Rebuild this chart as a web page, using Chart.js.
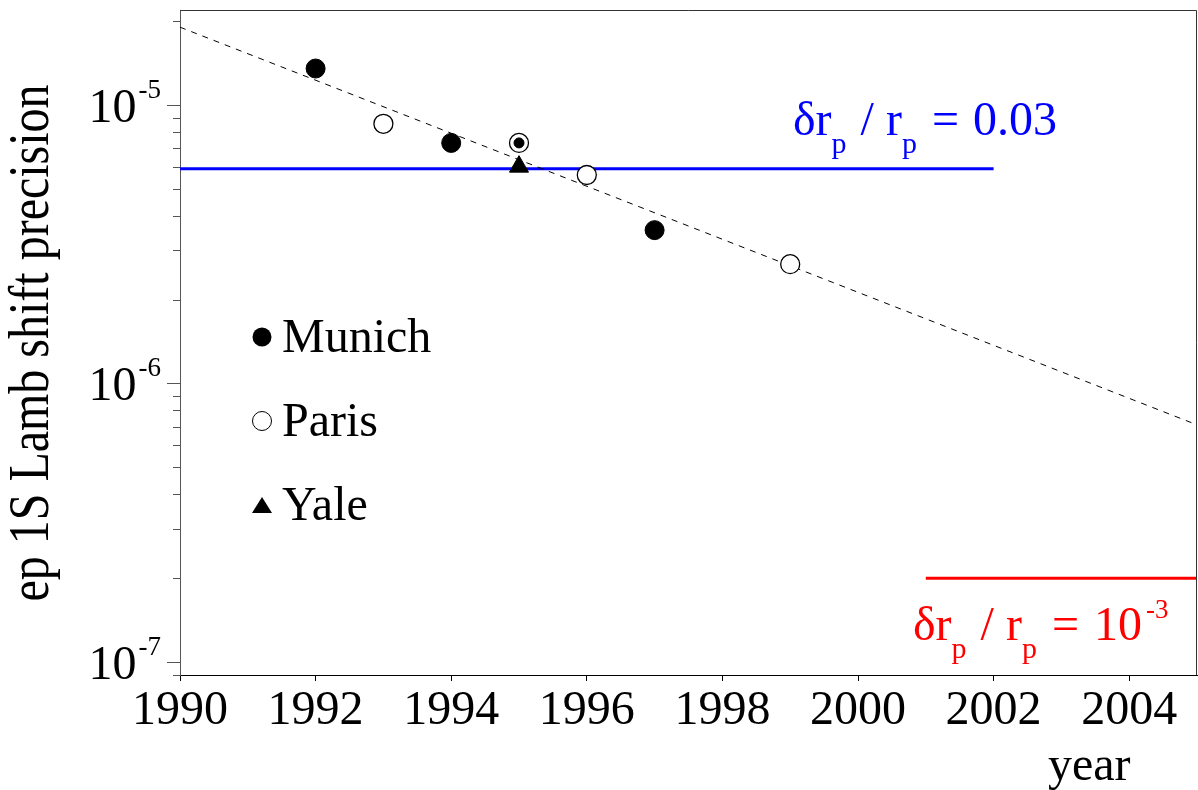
<!DOCTYPE html>
<html>
<head>
<meta charset="utf-8">
<script src="https://cdn.jsdelivr.net/npm/chart.js@4"></script>
<style>
  html, body { margin: 0; padding: 0; background: #fff; }
  #myChart { display: block; }
</style>
</head>
<body>
<canvas id="myChart" width="1198" height="790"></canvas>
<script>
const munichYears = [1992, 1994, 1995, 1997];
const munichPrec = [1.35e-5, 7.3e-6, 7.3e-6, 3.55e-6];
const munichRadius = [9.5, 9.5, 5, 9.5];

const parisYears = [1993, 1995, 1996, 1999];
const parisPrec = [8.55e-6, 7.3e-6, 5.6e-6, 2.68e-6];

const yaleYears = [1995];
const yalePrec = [6.0e-6];

// dashed trend line (end points)
const fitYears = [1990, 2005];
const fitPrec = [1.9e-5, 7.1e-7];

// target lines
const blueYears = [1990, 2002];
const blueLevel = 5.9e-6;
const redYears = [2001, 2005];
const redLevel = 2.0e-7;

const decadeTicks = [1e-7, 1e-6, 1e-5];
const legendNames = ["Munich", "Paris", "Yale"];

const serif = "'Liberation Serif', 'DejaVu Serif', serif";

const pts = (xs, ys) => xs.map((x, i) => ({ x: x, y: Array.isArray(ys) ? ys[i] : ys }));

function font(size) {
  return size + "px " + serif;
}

// text pieces: [text, size, dy, gapAfter]
function drawPieces(ctx, pieces, x, y, color) {
  ctx.fillStyle = color;
  ctx.textAlign = "left";
  ctx.textBaseline = "alphabetic";
  pieces.forEach((p) => {
    ctx.font = font(p[1]);
    ctx.fillText(p[0], x, y + p[2]);
    x += ctx.measureText(p[0]).width + (p[3] || 0);
  });
}

const extras = {
  id: "extras",
  afterDraw(chart) {
    const ctx = chart.ctx;
    const area = chart.chartArea;
    const ys = chart.scales.y;
    ctx.save();

    // frame top/right
    ctx.strokeStyle = "#333";
    ctx.lineWidth = 1;
    ctx.beginPath();
    ctx.moveTo(area.left, area.top + 0.5);
    ctx.lineTo(area.right - 0.5, area.top + 0.5);
    ctx.lineTo(area.right - 0.5, area.bottom);
    ctx.stroke();

    // log ticks on y axis
    ctx.strokeStyle = "#555";
    for (let e = -8; e <= -4; e++) {
      for (let m = 1; m <= 9; m++) {
        const v = m * Math.pow(10, e);
        if (v < ys.min || v > ys.max) continue;
        const py = Math.round(ys.getPixelForValue(v)) + 0.5;
        const len = m == 1 ? 13 : 7;
        ctx.beginPath();
        ctx.moveTo(area.left - len, py);
        ctx.lineTo(area.left, py);
        ctx.stroke();
      }
    }

    // decade labels 10^n
    decadeTicks.forEach((v) => {
      const py = ys.getPixelForValue(v);
      const exp = String(Math.round(Math.log10(v)));
      ctx.font = font(27);
      const we = ctx.measureText(exp).width;
      ctx.font = font(48);
      const wb = ctx.measureText("10").width;
      const right = area.left - 19;
      drawPieces(ctx, [["10", 48, 0]], right - we - wb - 2, py + 17, "#000");
      drawPieces(ctx, [[exp, 27, 0]], right - we, py - 7, "#000");
    });

    // axis titles
    ctx.fillStyle = "#000";
    ctx.font = font(48);
    ctx.textAlign = "left";
    ctx.textBaseline = "alphabetic";
    ctx.fillText("year", 1048, 780);

    ctx.save();
    ctx.translate(48, 343);
    ctx.rotate(-Math.PI / 2);
    ctx.scale(1, 1.18);
    ctx.textAlign = "center";
    ctx.fillText("ep 1S Lamb shift precision", 0, 0);
    ctx.restore();

    // legend
    const lx = 262;
    const rows = [337, 421, 505];
    ctx.fillStyle = "#000";
    ctx.strokeStyle = "#000";
    ctx.lineWidth = 1;
    ctx.beginPath();
    ctx.arc(lx, rows[0], 9.5, 0, Math.PI * 2);
    ctx.fill();
    ctx.beginPath();
    ctx.arc(lx, rows[1], 9.5, 0, Math.PI * 2);
    ctx.stroke();
    ctx.beginPath();
    ctx.moveTo(lx - 10, rows[2] + 8);
    ctx.lineTo(lx + 10, rows[2] + 8);
    ctx.lineTo(lx, rows[2] - 8);
    ctx.closePath();
    ctx.fill();
    legendNames.forEach((name, i) => {
      drawPieces(ctx, [[name, 48, 0]], 282, rows[i] + 15, "#000");
    });

    // target labels
    drawPieces(ctx, [["\u03B4r", 48, 0], ["p", 30, 18, 2], [" / r", 48, 0], ["p", 30, 18, 3], [" = ", 48, 0, 2], ["0.03", 48, 0]], 793, 135, "#0000ff");
    drawPieces(ctx, [["\u03B4r", 48, 0], ["p", 30, 18, 2], [" / r", 48, 0], ["p", 30, 18, 3], [" = ", 48, 0, 3], ["10", 48, 0, 4], ["-3", 27, -22]], 913, 640, "#ff0000");

    ctx.restore();
  },
};

const data = {
  datasets: [
    {
      label: "Munich",
      data: pts(munichYears, munichPrec),
      showLine: false,
      pointStyle: "circle",
      pointRadius: munichRadius,
      pointBackgroundColor: "#000",
      pointBorderColor: "#000",
      pointBorderWidth: 1,
    },
    {
      label: "Yale",
      data: pts(yaleYears, yalePrec),
      showLine: false,
      pointStyle: "triangle",
      pointRadius: 11,
      pointBackgroundColor: "#000",
      pointBorderColor: "#000",
      pointBorderWidth: 1,
    },
    {
      label: "Paris",
      data: pts(parisYears, parisPrec),
      showLine: false,
      pointStyle: "circle",
      pointRadius: 9.5,
      pointBackgroundColor: "#fff",
      pointBorderColor: "#000",
      pointBorderWidth: 1.3,
    },
    {
      label: "fit",
      data: pts(fitYears, fitPrec),
      borderColor: "#000",
      borderWidth: 1,
      borderDash: [6, 6],
      pointRadius: 0,
    },
    {
      label: "0.03",
      data: pts(blueYears, blueLevel),
      borderColor: "#0000ff",
      borderWidth: 3,
      pointRadius: 0,
    },
    {
      label: "1e-3",
      data: pts(redYears, redLevel),
      borderColor: "#ff0000",
      borderWidth: 3,
      pointRadius: 0,
    },
  ],
};

const config = {
  type: "line",
  data: data,
  options: {
    responsive: false,
    devicePixelRatio: 1,
    animation: false,
    layout: { autoPadding: false, padding: { left: 0, top: 10, right: 1, bottom: 0 } },
    plugins: {
      legend: { display: false },
      tooltip: { enabled: false },
    },
    scales: {
      x: {
        type: "linear",
        min: 1990,
        max: 2005,
        afterFit: (s) => { s.height = 115; },
        border: { color: "#000", width: 1 },
        grid: { drawOnChartArea: false, tickLength: 6, color: "#000" },
        ticks: {
          stepSize: 2,
          includeBounds: false,
          padding: 2,
          color: "#000",
          font: { family: serif, size: 48 },
          maxRotation: 0,
          autoSkip: false,
          callback: (v) => String(v),
        },
      },
      y: {
        type: "logarithmic",
        min: 8.98e-8,
        max: 2.19e-5,
        afterFit: (s) => { s.width = 180; },
        border: { color: "#555", width: 1 },
        grid: { display: false },
        ticks: { display: false },
      },
    },
  },
  plugins: [extras],
};

myChart = new Chart("myChart", config);
</script>
</body>
</html>
